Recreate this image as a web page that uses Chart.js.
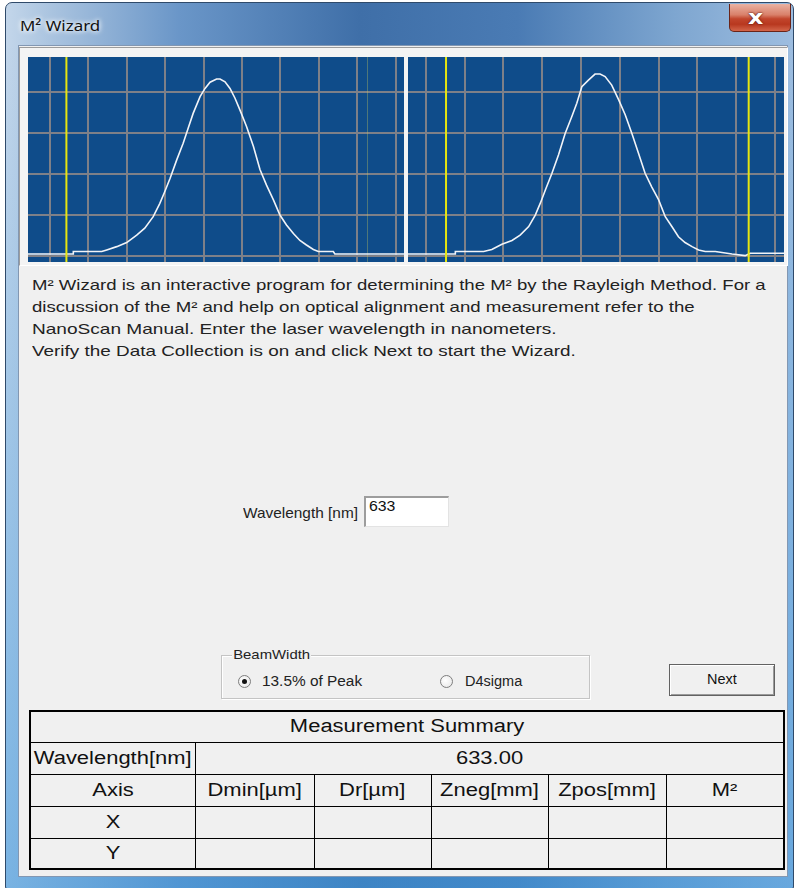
<!DOCTYPE html>
<html>
<head>
<meta charset="utf-8">
<script src="https://cdn.jsdelivr.net/npm/chart.js@4.4.0/dist/chart.umd.min.js"></script>
<style>
  html,body{margin:0;padding:0;}
  body{width:796px;height:888px;overflow:hidden;background:#ffffff;position:relative;font-family:"Liberation Sans",Arial,sans-serif;}
  .abs{position:absolute;}
  .frame{left:5px;top:2px;width:787px;height:885px;border:1px solid #2f4a6a;border-radius:7px 7px 2px 2px;
    background:
      linear-gradient(to bottom, rgba(0,0,0,0) 0px, rgba(0,0,0,0) 40px, rgba(60,150,220,0.55) 100%),
      linear-gradient(to right, #c3d6ea 0%, #a9c3df 6%, #6a96c8 22%, #3f6fa8 45%, #4a7bb4 65%, #7ea6d0 85%, #9dbde0 100%);}
  .client{left:18px;top:45px;width:768px;height:830px;background:#f0f0f0;border:1px solid #8297b2;}
  .t{position:absolute;white-space:nowrap;display:inline-block;transform-origin:left center;}
  .para{font-size:15px;line-height:18px;color:#222;}
  .panelbox{left:19px;top:47px;width:767px;height:217px;background:#f4f4f4;border-top:1px solid #9c9c9c;border-left:1px solid #9c9c9c;border-right:1px solid #ffffff;border-bottom:1px solid #ffffff;}
  .cv{position:absolute;}
  .input{left:364px;top:496px;width:82px;height:28px;background:#fff;border-top:2px solid #9d9d9d;border-left:2px solid #9d9d9d;border-right:1px solid #e3e3e3;border-bottom:1px solid #e3e3e3;}
  .group{left:221px;top:655px;width:367px;height:42px;border:1px solid #c4c4c4;box-shadow:1px 1px 0 #ffffff, inset 1px 1px 0 #ffffff;}
  .radio{width:11px;height:11px;border-radius:50%;border:1px solid #7e7e7e;background:radial-gradient(circle at 40% 40%, #ffffff 0%, #e4e4e4 100%);}
  .dot{width:5px;height:5px;border-radius:50%;background:#111;left:3px;top:3px;}
  .btn{left:669px;top:664px;width:104px;height:30px;background:#f0f0f0;border:1px solid #626262;box-shadow:inset 1px 1px 0 #ffffff, inset -1px -1px 0 #9a9a9a;}
  .close{left:729px;top:4px;width:60px;height:27px;border:1px solid #6a2418;border-top:none;border-radius:0 0 5px 5px;
    background:linear-gradient(to bottom,#eab2a2 0%,#d9806a 40%,#c2452c 55%,#b8381f 75%,#d3654a 100%);}
  table.sum{position:absolute;left:29px;top:710px;border-collapse:collapse;table-layout:fixed;border:2px solid #000;}
  table.sum td{border:1px solid #000;padding:0;text-align:center;font-size:18px;color:#111;overflow:visible;white-space:nowrap;}
  table.sum td span{display:inline-block;transform:scaleX(1.22);transform-origin:center center;}
</style>
</head>
<body>
<div class="abs frame"></div>
<div class="abs close"></div>
<div class="t" style="left:748px;top:6px;font:bold 19px 'DejaVu Sans',sans-serif;color:#fff;text-shadow:0 0 1px #5a1a10,0 0 2px #5a1a10;transform:scaleX(1.25);">x</div>
<div class="t" data-w="80" style="left:20px;top:15px;font-size:15px;line-height:20px;font-family:'Noto Sans',sans-serif;color:#111;text-shadow:0 0 6px #ffffff,0 0 4px #ffffff;">M² Wizard</div>

<div class="abs client"></div>
<div class="abs panelbox"></div>
<canvas id="leftPanel" class="cv" width="376" height="205" style="left:28px;top:57px;width:376px;height:205px;"></canvas>
<canvas id="rightPanel" class="cv" width="376" height="205" style="left:408px;top:57px;width:376px;height:205px;"></canvas>

<div class="t para" data-w="734" style="left:32px;top:276px;">M² Wizard is an interactive program for determining the M² by the Rayleigh Method. For a</div>
<div class="t para" data-w="662" style="left:32px;top:298px;">discussion of the M² and help on optical alignment and measurement refer to the</div>
<div class="t para" data-w="525" style="left:32px;top:320px;">NanoScan Manual. Enter the laser wavelength in nanometers.</div>
<div class="t para" data-w="544" style="left:32px;top:342px;">Verify the Data Collection is on and click Next to start the Wizard.</div>

<div class="t" data-w="115" style="left:243px;top:504px;font-size:15px;line-height:18px;color:#222;">Wavelength [nm]</div>
<div class="abs input"></div>
<div class="t" data-w="26" style="left:369px;top:498px;font-size:14px;line-height:16px;color:#111;">633</div>

<div class="abs group"></div>
<div class="t" data-w="79" style="left:232px;top:647px;font-size:13px;line-height:16px;color:#222;background:#f0f0f0;padding:0 1px;">BeamWidth</div>
<div class="abs radio" style="left:238px;top:675px;"><div class="abs dot"></div></div>
<div class="t" data-w="100" style="left:262px;top:673px;font-size:14px;line-height:17px;color:#222;">13.5% of Peak</div>
<div class="abs radio" style="left:440px;top:675px;"></div>
<div class="t" data-w="57" style="left:465px;top:673px;font-size:14px;line-height:17px;color:#222;">D4sigma</div>

<div class="abs btn"></div>
<div class="t" data-w="30" style="left:707px;top:671px;font-size:14px;line-height:17px;color:#111;">Next</div>

<table class="sum">
  <colgroup><col style="width:165px"><col style="width:119px"><col style="width:117px"><col style="width:117px"><col style="width:118px"><col style="width:118px"></colgroup>
  <tr style="height:31px"><td colspan="6"><span>Measurement Summary</span></td></tr>
  <tr style="height:32px"><td><span>Wavelength[nm]</span></td><td colspan="5"><span>633.00</span></td></tr>
  <tr style="height:32px"><td><span>Axis</span></td><td><span>Dmin[µm]</span></td><td><span>Dr[µm]</span></td><td><span>Zneg[mm]</span></td><td><span>Zpos[mm]</span></td><td><span>M²</span></td></tr>
  <tr style="height:32px"><td><span>X</span></td><td></td><td></td><td></td><td></td><td></td></tr>
  <tr style="height:31px"><td><span>Y</span></td><td></td><td></td><td></td><td></td><td></td></tr>
</table>

<script>
// ---- grid divisions (profile display) ----
const gridCols = [0, 1, 2, 3, 4, 5, 6, 7, 8, 9];
const gridRows = [0, 1, 2, 3, 4];

// ---- left profile (X), in grid divisions ----
const leftX = [-0.6, 0.61, 0.61, 1.35, 1.48, 1.74, 2.00, 2.26, 2.47, 2.69, 2.86, 2.99, 3.13, 3.30, 3.47, 3.60, 3.73, 3.91, 4.04, 4.17, 4.34, 4.43, 4.56, 4.69, 4.82, 4.95, 5.12, 5.30, 5.47, 5.64, 5.82, 5.99, 6.16, 6.34, 6.51, 6.68, 6.86, 6.99, 7.38, 7.42, 9.4];
const leftY = [0.04, 0.04, 0.10, 0.10, 0.14, 0.22, 0.32, 0.50, 0.67, 0.95, 1.27, 1.56, 1.89, 2.33, 2.74, 3.11, 3.47, 3.88, 4.08, 4.23, 4.31, 4.31, 4.24, 4.08, 3.84, 3.55, 3.15, 2.66, 2.10, 1.72, 1.36, 0.99, 0.75, 0.54, 0.37, 0.26, 0.15, 0.10, 0.10, 0.04, 0.04];
const leftCursors = [0.43];
const leftHiddenCursors = [8.27];

// ---- right profile (Y) ----
const rightX = [-0.5, 0.76, 0.76, 1.49, 1.70, 1.96, 2.22, 2.43, 2.65, 2.82, 2.95, 3.08, 3.25, 3.42, 3.59, 3.76, 3.89, 4.02, 4.19, 4.36, 4.49, 4.62, 4.79, 4.97, 5.14, 5.31, 5.48, 5.65, 5.82, 6.00, 6.17, 6.34, 6.51, 6.68, 6.86, 7.03, 7.20, 7.46, 7.89, 8.23, 8.36, 9.4];
const rightY = [0.04, 0.04, 0.10, 0.10, 0.15, 0.28, 0.37, 0.50, 0.71, 0.99, 1.28, 1.60, 2.01, 2.46, 2.98, 3.39, 3.72, 4.12, 4.28, 4.43, 4.43, 4.37, 4.16, 3.80, 3.43, 2.98, 2.50, 2.01, 1.68, 1.36, 0.95, 0.71, 0.46, 0.32, 0.22, 0.14, 0.10, 0.10, 0.04, 0.00, 0.06, 0.06];
const rightCursors = [0.52, 8.32];

// visible window of each display (grid divisions)
const leftRange = [-0.57, 9.22];
const rightRange = [-0.46, 9.23];
const yRange = [-0.155, 4.846];

const bgPlugin = {
  id: 'bg',
  beforeDraw(chart) {
    const c = chart.ctx;
    c.save();
    c.fillStyle = '#0f4c8a';
    c.fillRect(0, 0, chart.width, chart.height);
    c.restore();
  }
};

function makePanel(id, xs, ys, cursors, hidden, xr) {
  const curve = xs.map((x, i) => ({ x: x, y: ys[i] }));
  const datasets = [];
  hidden.forEach(c => datasets.push({
    data: [{ x: c, y: yRange[0] - 1 }, { x: c, y: yRange[1] + 1 }],
    showLine: true, borderColor: 'rgba(200,200,90,0.35)', borderWidth: 1, pointRadius: 0, order: 2
  }));
  datasets.push({ data: curve, showLine: true, borderColor: '#f2f4f8', borderWidth: 1.6, pointRadius: 0, tension: 0, order: 1 });
  cursors.forEach(c => datasets.push({
    data: [{ x: c, y: yRange[0] - 1 }, { x: c, y: yRange[1] + 1 }],
    showLine: true, borderColor: '#e6e610', borderWidth: 2, pointRadius: 0, order: 0
  }));
  new Chart(document.getElementById(id), {
    type: 'scatter',
    data: { datasets: datasets },
    options: {
      responsive: false, animation: false, devicePixelRatio: 1,
      layout: { padding: 0 },
      plugins: { legend: { display: false }, tooltip: { enabled: false } },
      scales: {
        x: {
          type: 'linear', min: xr[0], max: xr[1],
          afterBuildTicks: s => { s.ticks = gridCols.map(v => ({ value: v })); },
          ticks: { display: false },
          grid: { color: '#7e8088', lineWidth: 2, drawTicks: false },
          border: { display: false }
        },
        y: {
          type: 'linear', min: yRange[0], max: yRange[1],
          afterBuildTicks: s => { s.ticks = gridRows.map(v => ({ value: v })); },
          ticks: { display: false },
          grid: { color: '#7e8088', lineWidth: 2, drawTicks: false },
          border: { display: false }
        }
      }
    },
    plugins: [bgPlugin]
  });
}

makePanel('leftPanel', leftX, leftY, leftCursors, leftHiddenCursors, leftRange);
makePanel('rightPanel', rightX, rightY, rightCursors, [], rightRange);

// stretch texts horizontally to the widths they occupy in the dialog
document.querySelectorAll('[data-w]').forEach(el => {
  const w = el.offsetWidth;
  if (w > 0) el.style.transform = 'scaleX(' + (parseFloat(el.dataset.w) / w) + ')';
});
</script>
</body>
</html>
